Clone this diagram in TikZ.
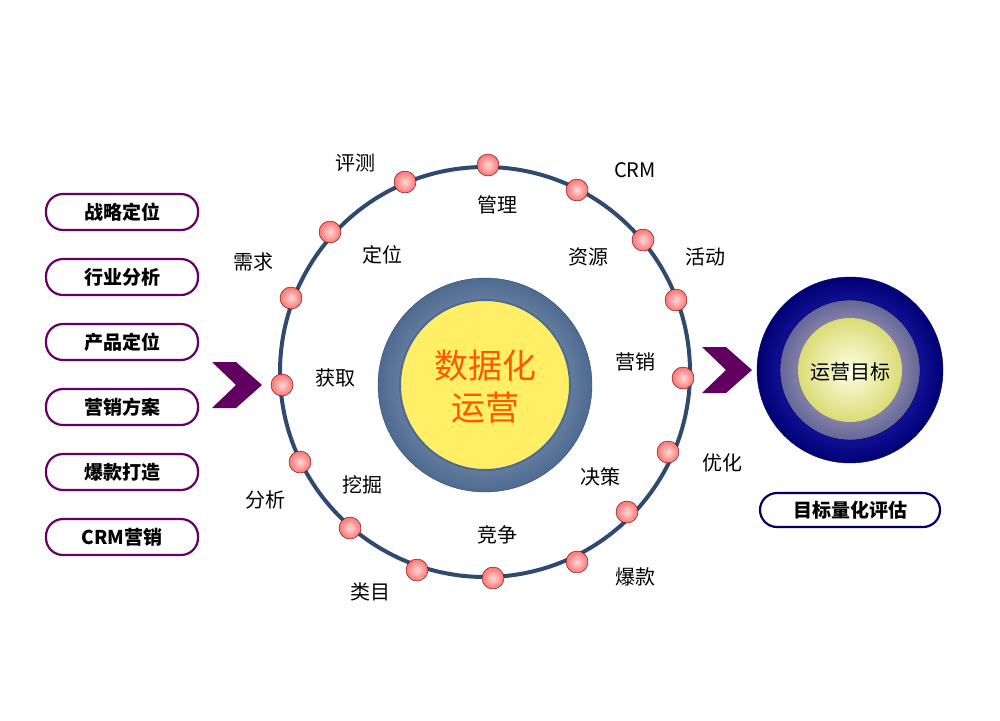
\documentclass[tikz,border=0pt]{standalone}
\usepackage{fontspec}
\setmainfont{Noto Sans CJK SC}
\definecolor{ringc}{HTML}{2F4A6E}
\definecolor{steel}{HTML}{7F98B8}
\definecolor{steeld}{HTML}{4E6A90}
\definecolor{yel}{HTML}{FFEE66}
\begin{document}
\begin{tikzpicture}[x=1pt,y=-1pt,
 pill/.style={draw=violet!80!black,line width=2.2pt,rounded corners=17pt,fill=white,minimum width=152pt,minimum height=36pt,font=\bfseries\fontsize{19}{20}\selectfont},
 dot/.style={circle,draw=red!40!black,inner color=red!15,outer color=red!55!white,minimum size=22pt,inner sep=0pt},
 lab/.style={font=\fontsize{20}{22}\selectfont},
 chev/.style={fill=violet!75!black,draw=none}]
\useasboundingbox (0,0) rectangle (1000,720);
\foreach \t [count=\i] in {战略定位,行业分析,产品定位,营销方案,爆款打造,CRM营销}
  \node[pill] (p\i) at (122,{212+(\i-1)*65}) {\t};
\fill[chev] (212,362) -- (236,362) -- (262,385) -- (236,408) -- (212,408) -- (236,385) -- cycle;
\fill[chev] (702,347) -- (726,347) -- (752,370) -- (726,393) -- (702,393) -- (726,370) -- cycle;
\coordinate (c) at (485,372);
\draw[line width=4pt,draw=ringc] (c) circle (205);
\node[circle,minimum size=214pt,inner sep=0pt,inner color=steel!60,outer color=steeld,draw=ringc] (ctr) at (485,385) {};
\node[circle,minimum size=170pt,inner sep=0pt,fill=yel,draw=steeld,line width=2pt] (yelc) at (485,385) {};
\node[align=center,text=orange!70!red,font=\fontsize{34}{42}\selectfont] (ct) at (485,387) {数据化\\运营};
\foreach \x/\y [count=\i] in {488/165,577/190,643/240,676/300,683/378,668/452,627/512,577/562,493/578,417/570,350/528,300/462,282/385,291/298,330/232,405/182}
  \node[dot] (d\i) at (\x,\y) {};
\foreach \x/\y/\t [count=\i] in {355/163/评测,497/205/管理,635/170/CRM,253/262/需求,382/255/定位,588/257/资源,705/257/活动,335/378/获取,635/362/营销,722/463/优化,362/485/挖掘,600/477/决策,265/500/分析,497/535/竞争,370/592/类目,635/577/爆款}
  \node[lab] (l\i) at (\x,\y) {\t};
\node[circle,minimum size=186pt,inner sep=0pt,inner color=blue!75,outer color=blue!45!black,draw=blue!40!black] (t1) at (850,370) {};
\node[circle,minimum size=140pt,inner sep=0pt,inner color=gray!40,outer color=gray!80!blue,draw=blue!30!black] (t2) at (850,370) {};
\node[circle,minimum size=104pt,inner sep=0pt,inner color=yellow!10,outer color=yellow!30!olive!40,draw=none] (t3) at (850,370) {};
\node[font=\fontsize{20}{22}\selectfont] (tl) at (850,372) {运营目标};
\node[pill,draw=blue!40!black,minimum width=180pt,minimum height=34pt] (eval) at (850,510) {目标量化评估};
\end{tikzpicture}
\end{document}
